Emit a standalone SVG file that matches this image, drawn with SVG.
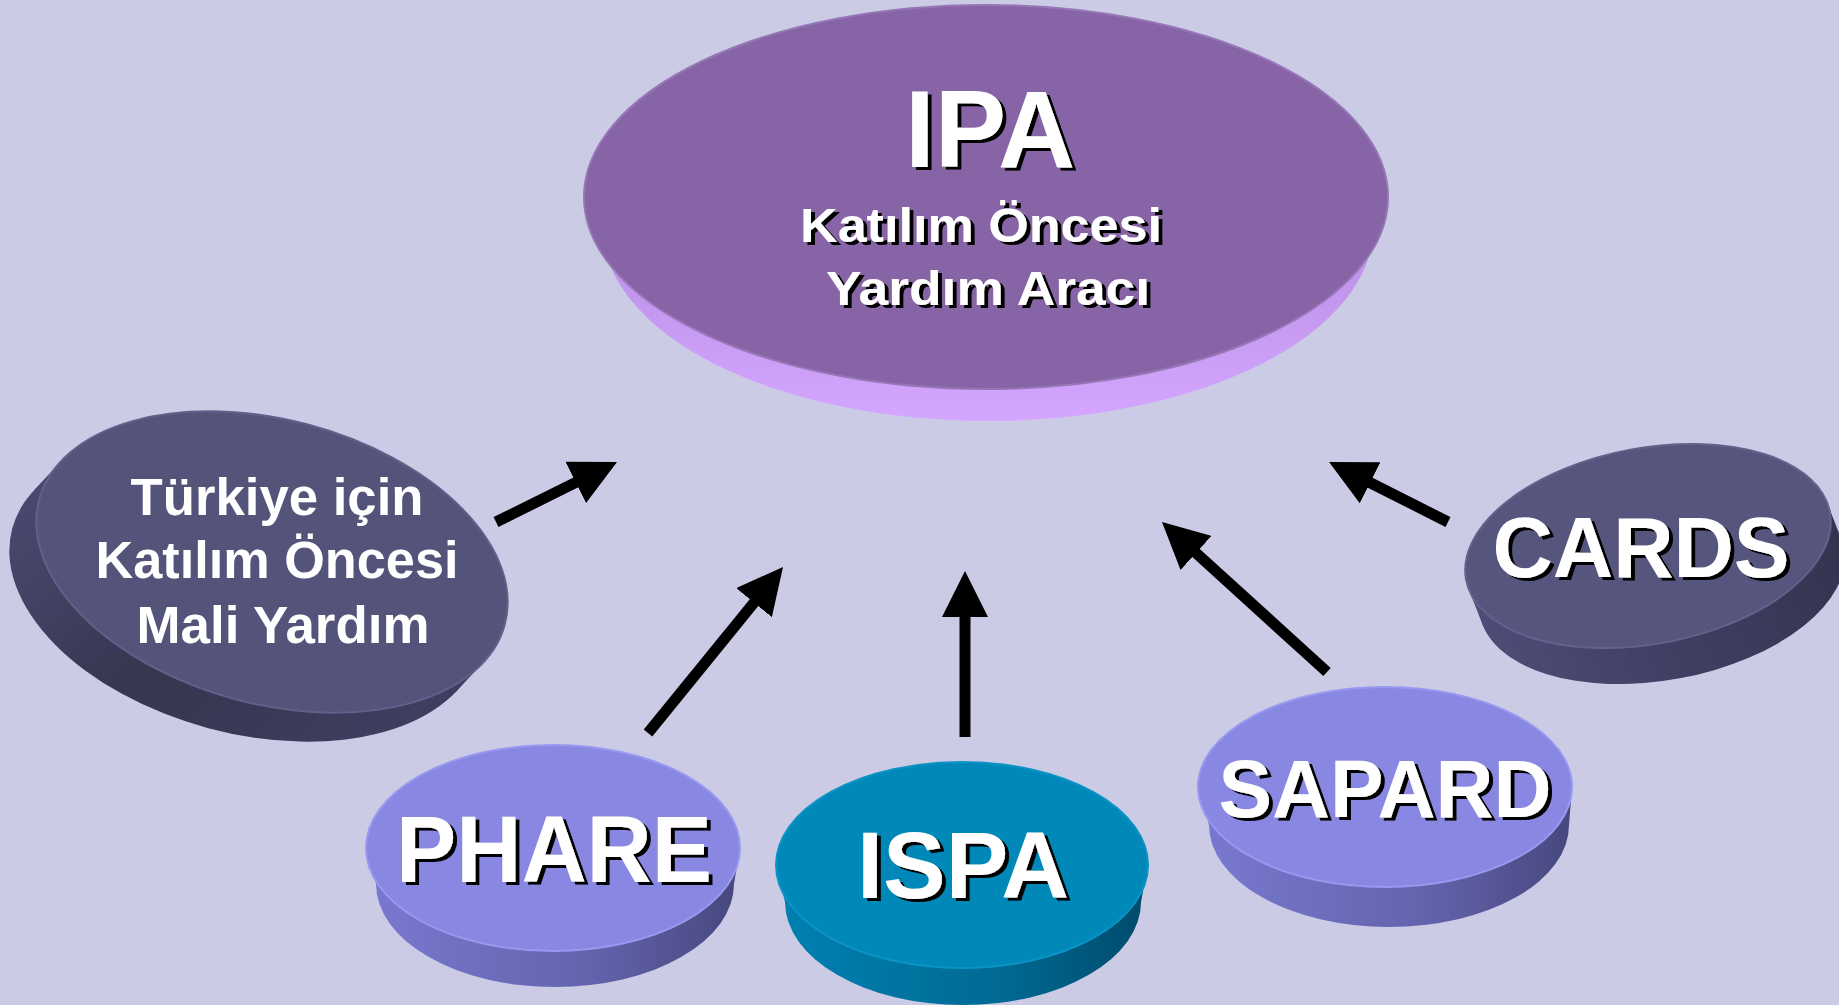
<svg xmlns="http://www.w3.org/2000/svg" width="1839" height="1005" viewBox="0 0 1839 1005">
<defs>
<style>
.t{font-family:"Liberation Sans",Arial,sans-serif;font-weight:bold;text-anchor:middle;fill:#fff}
.sh{filter:url(#shadow)}
.arr{stroke:#000;stroke-width:11;fill:none;marker-end:url(#ah)}
</style>
<filter id="shadow" x="-10%" y="-20%" width="120%" height="140%">
<feFlood flood-color="#000" result="blk"/>
<feComposite in="blk" in2="SourceAlpha" operator="in" result="sa"/>
<feOffset in="sa" dx="4" dy="3" result="off"/>
<feMerge><feMergeNode in="off"/><feMergeNode in="SourceGraphic"/></feMerge>
</filter>
<marker id="ah" viewBox="0 0 46 46" markerWidth="46" markerHeight="46" refX="26" refY="23" orient="auto" markerUnits="userSpaceOnUse">
<path d="M0,0 L46,23 L0,46 z" fill="#000"/>
</marker>
<linearGradient id="gIpa" gradientUnits="userSpaceOnUse" x1="0" y1="200" x2="0" y2="421">
<stop offset="0" stop-color="#b68be2"/><stop offset="1" stop-color="#d4a6ff"/>
</linearGradient>
<linearGradient id="gBlue" x1="0" y1="0" x2="1" y2="0">
<stop offset="0" stop-color="#7878cf"/><stop offset="0.6" stop-color="#6363ad"/><stop offset="1" stop-color="#48487f"/>
</linearGradient>
<linearGradient id="gIspa" x1="0" y1="0" x2="1" y2="0">
<stop offset="0" stop-color="#0080b0"/><stop offset="0.6" stop-color="#006a94"/><stop offset="1" stop-color="#004c6c"/>
</linearGradient>
<linearGradient id="gTur" gradientUnits="userSpaceOnUse" x1="20" y1="500" x2="420" y2="740">
<stop offset="0" stop-color="#4a4a72"/><stop offset="0.5" stop-color="#36364f"/><stop offset="1" stop-color="#3e3e60"/>
</linearGradient>
<linearGradient id="gCards" gradientUnits="userSpaceOnUse" x1="1480" y1="620" x2="1839" y2="540">
<stop offset="0" stop-color="#4c4c76"/><stop offset="0.5" stop-color="#3e3e62"/><stop offset="1" stop-color="#34344f"/>
</linearGradient>
</defs>
<rect width="1839" height="1005" fill="#cbcbe6"/>

<g id="node-ipa">
<ellipse cx="988" cy="228" rx="385" ry="193" fill="url(#gIpa)"/>
<polygon points="584,197 1388,197 1373,228 603,228" fill="url(#gIpa)"/>
<ellipse cx="986" cy="197" rx="402" ry="192" fill="#8764a5" stroke="#9676b6" stroke-width="2"/>
<text class="t sh" x="990" y="167" font-size="110" textLength="170" lengthAdjust="spacingAndGlyphs">IPA</text>
<text class="t sh" x="981" y="242" font-size="49" textLength="362" lengthAdjust="spacingAndGlyphs">Katılım Öncesi</text>
<text class="t sh" x="988" y="305" font-size="49" textLength="324" lengthAdjust="spacingAndGlyphs">Yardım Aracı</text>
</g>

<g id="node-turkiye">
<ellipse cx="245" cy="591" rx="241" ry="142" transform="rotate(15 245 591)" fill="url(#gTur)"/>
<polygon points="60.8,461.4 483.2,662.6 456.2,691.6 33.8,490.4" fill="url(#gTur)"/>
<ellipse cx="272" cy="562" rx="241" ry="142" transform="rotate(15 272 562)" fill="#54547b" stroke="#60608a" stroke-width="2"/>
<text class="t" x="277" y="515" font-size="51" textLength="293" lengthAdjust="spacingAndGlyphs">Türkiye için</text>
<text class="t" x="277" y="578" font-size="51" textLength="363" lengthAdjust="spacingAndGlyphs">Katılım Öncesi</text>
<text class="t" x="283" y="643" font-size="51" textLength="293" lengthAdjust="spacingAndGlyphs">Mali Yardım</text>
</g>

<g id="node-cards">
<ellipse cx="1662" cy="582" rx="185" ry="98" transform="rotate(-10.5 1662 582)" fill="url(#gCards)"/>
<polygon points="1827.2,502.8 1468.8,589.2 1482.8,625.2 1841.2,538.8" fill="url(#gCards)"/>
<ellipse cx="1648" cy="546" rx="185" ry="98" transform="rotate(-10.5 1648 546)" fill="#55557d" stroke="#62628c" stroke-width="2"/>
<text class="t sh" x="1641" y="577" font-size="86" textLength="297" lengthAdjust="spacingAndGlyphs">CARDS</text>
</g>

<g id="node-phare">
<ellipse cx="555" cy="884" rx="179" ry="103" fill="url(#gBlue)"/>
<polygon points="366,848 740,848 734,884 376,884" fill="url(#gBlue)"/>
<ellipse cx="553" cy="848" rx="187" ry="103" fill="#8888e2" stroke="#9898f0" stroke-width="2"/>
<text class="t sh" x="554" y="882" font-size="94" textLength="316" lengthAdjust="spacingAndGlyphs">PHARE</text>
</g>

<g id="node-ispa">
<ellipse cx="963" cy="902" rx="178" ry="103" fill="url(#gIspa)"/>
<polygon points="776,865 1148,865 1141,902 785,902" fill="url(#gIspa)"/>
<ellipse cx="962" cy="865" rx="186" ry="103" fill="#0088b8" stroke="#0a93c4" stroke-width="2"/>
<text class="t sh" x="963" y="898" font-size="95" textLength="212" lengthAdjust="spacingAndGlyphs">ISPA</text>
</g>

<g id="node-sapard">
<ellipse cx="1389" cy="825" rx="180" ry="102" fill="url(#gBlue)"/>
<polygon points="1198,787 1572,787 1569,825 1209,825" fill="url(#gBlue)"/>
<ellipse cx="1385" cy="787" rx="187" ry="100" fill="#8888e2" stroke="#9898f0" stroke-width="2"/>
<text class="t sh" x="1385" y="817" font-size="82" textLength="333" lengthAdjust="spacingAndGlyphs">SAPARD</text>
</g>

<g id="connectors">
<line class="arr" x1="496" y1="522" x2="599.1" y2="470.9"/>
<line class="arr" x1="648" y1="733" x2="770.4" y2="582.5"/>
<line class="arr" x1="965" y1="737" x2="965" y2="591"/>
<line class="arr" x1="1327" y1="672" x2="1176.8" y2="535.5"/>
<line class="arr" x1="1448" y1="522" x2="1346.9" y2="471"/>
</g>
</svg>
